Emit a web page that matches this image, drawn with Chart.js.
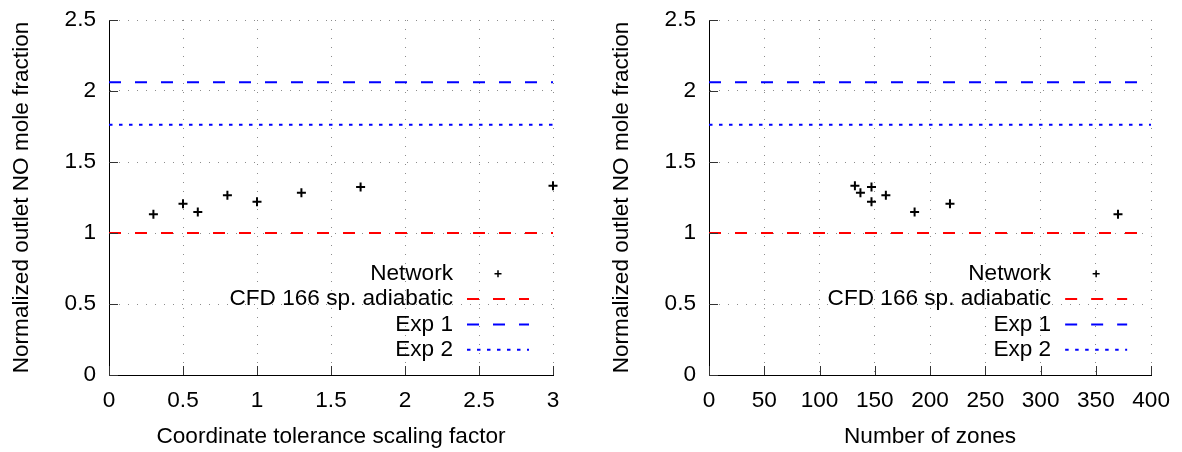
<!DOCTYPE html>
<html>
<head>
<meta charset="utf-8">
<script src="https://cdn.jsdelivr.net/npm/chart.js@4.4.1/dist/chart.umd.min.js"></script>
<style>
  html, body { margin: 0; padding: 0; background: #fff; overflow: hidden; }
  .panel { position: absolute; top: 0; width: 582px; height: 452px; }
  #left { left: 0; }
  #right { left: 600px; }
</style>
</head>
<body>
<div class="panel" id="left"><canvas id="toleranceChart" width="582" height="452"></canvas></div>
<div class="panel" id="right"><canvas id="zonesChart" width="582" height="452"></canvas></div>
<script>
// values
const toleranceFactors = [0.3, 0.5, 0.6, 0.8, 1.0, 1.3, 1.7, 3.0];
const zoneCounts = [370, 218, 186, 160, 147, 137, 147, 132];
const networkNO = [1.132, 1.206, 1.148, 1.266, 1.220, 1.284, 1.324, 1.332];
const cfdNO = 1.0;
const exp1NO = 2.061;
const exp2NO = 1.763;
const toleranceRange = [0, 3];
const zonesRange = [0, 400];
const yRange = [0, 2.5];
const seriesLabels = ['Network', 'CFD 166 sp. adiabatic', 'Exp 1', 'Exp 2'];

const FONT = 'Liberation Sans, Arial, sans-serif';
const FONT_SIZE = 22.6;

// gnuplot style ticks pointing into the plot
const innerTicks = {
  id: 'innerTicks',
  afterDraw(chart) {
    const ctx = chart.ctx;
    const area = chart.chartArea;
    const xs = chart.scales.x, ys = chart.scales.y;
    ctx.save();
    ctx.strokeStyle = '#333';
    ctx.lineWidth = 1;
    ctx.beginPath();
    xs.ticks.forEach(t => {
      const px = Math.round(xs.getPixelForValue(t.value)) + 0.5;
      ctx.moveTo(px, area.bottom);
      ctx.lineTo(px, area.bottom - 9);
    });
    ys.ticks.forEach(t => {
      const py = Math.round(ys.getPixelForValue(t.value)) + 0.5;
      ctx.moveTo(area.left, py);
      ctx.lineTo(area.left + 9, py);
    });
    ctx.stroke();
    ctx.restore();
  }
};

// legend drawn inside the plot, text right aligned, sample to the right
const insideLegend = {
  id: 'insideLegend',
  afterDraw(chart) {
    const ctx = chart.ctx;
    const area = chart.chartArea;
    const sets = chart.data.datasets;
    ctx.save();
    ctx.font = FONT_SIZE + 'px ' + FONT;
    ctx.textAlign = 'right';
    ctx.textBaseline = 'middle';
    sets.forEach((ds, i) => {
      const y = area.bottom - 25.3 * (sets.length - i);
      ctx.fillStyle = '#000';
      ctx.fillText(ds.label, area.right - 100, y);
      if (ds.showLine) {
        ctx.strokeStyle = ds.borderColor;
        ctx.lineWidth = 2;
        ctx.setLineDash(ds.borderDash || []);
        ctx.beginPath();
        ctx.moveTo(area.right - 86, y);
        ctx.lineTo(area.right - 24, y);
        ctx.stroke();
        ctx.setLineDash([]);
      } else {
        const cx = area.right - 55;
        ctx.strokeStyle = '#000';
        ctx.lineWidth = 1.5;
        ctx.beginPath();
        ctx.moveTo(cx - 3.5, y); ctx.lineTo(cx + 3.5, y);
        ctx.moveTo(cx, y - 3.5); ctx.lineTo(cx, y + 3.5);
        ctx.stroke();
      }
    });
    ctx.restore();
  }
};

function refLine(label, value, range, color, dash) {
  return {
    label: label,
    data: [{x: range[0], y: value}, {x: range[1], y: value}],
    showLine: true,
    borderColor: color,
    borderWidth: 2,
    borderDash: dash,
    pointRadius: 0
  };
}

const plainNumber = v => String(+v.toFixed(2));

function makeChart(canvasId, xValues, xRange, xStep, xTitle) {
  const ctx = document.getElementById(canvasId).getContext('2d');
  return new Chart(ctx, {
    type: 'scatter',
    data: {
      datasets: [
        {
          label: seriesLabels[0],
          data: xValues.map((x, i) => ({x: x, y: networkNO[i]})),
          pointStyle: 'cross',
          pointRadius: 4.5,
          pointBorderWidth: 2,
          borderColor: '#000',
          backgroundColor: '#000',
          clip: false
        },
        refLine(seriesLabels[1], cfdNO, xRange, '#ff0000', [12, 14]),
        refLine(seriesLabels[2], exp1NO, xRange, '#0000ff', [12, 14]),
        refLine(seriesLabels[3], exp2NO, xRange, '#0000ff', [3.5, 6.5])
      ]
    },
    options: {
      responsive: false,
      animation: false,
      layout: { padding: { top: 20, right: 29, left: 0, bottom: 0 } },
      plugins: { legend: { display: false }, tooltip: { enabled: false } },
      scales: {
        x: {
          type: 'linear',
          min: xRange[0],
          max: xRange[1],
          afterFit: s => { s.height = 77; },
          ticks: { stepSize: xStep, padding: 12, color: '#000', font: { family: FONT, size: FONT_SIZE }, callback: plainNumber },
          grid: { color: '#8c8c8c', lineWidth: 1, drawTicks: false },
          border: { display: true, color: '#000', width: 1, dash: [1, 8] },
          title: {
            display: true,
            text: xTitle,
            color: '#000',
            font: { family: FONT, size: FONT_SIZE },
            padding: { top: 0, bottom: 2 }
          }
        },
        y: {
          type: 'linear',
          min: yRange[0],
          max: yRange[1],
          afterFit: s => { s.width = 109; s.paddingTop = 0; s.paddingBottom = 0; },
          ticks: { stepSize: 0.5, padding: 13, color: '#000', font: { family: FONT, size: FONT_SIZE }, callback: plainNumber },
          grid: { color: '#8c8c8c', lineWidth: 1, drawTicks: false },
          border: { display: true, color: '#000', width: 1, dash: [1, 8] },
          title: {
            display: true,
            text: 'Normalized outlet NO mole fraction',
            color: '#000',
            font: { family: FONT, size: FONT_SIZE },
            padding: { top: 8, bottom: 0 }
          }
        }
      }
    },
    plugins: [innerTicks, insideLegend]
  });
}

makeChart('toleranceChart', toleranceFactors, toleranceRange, 0.5, 'Coordinate tolerance scaling factor');
makeChart('zonesChart', zoneCounts, zonesRange, 50, 'Number of zones');
</script>
</body>
</html>
